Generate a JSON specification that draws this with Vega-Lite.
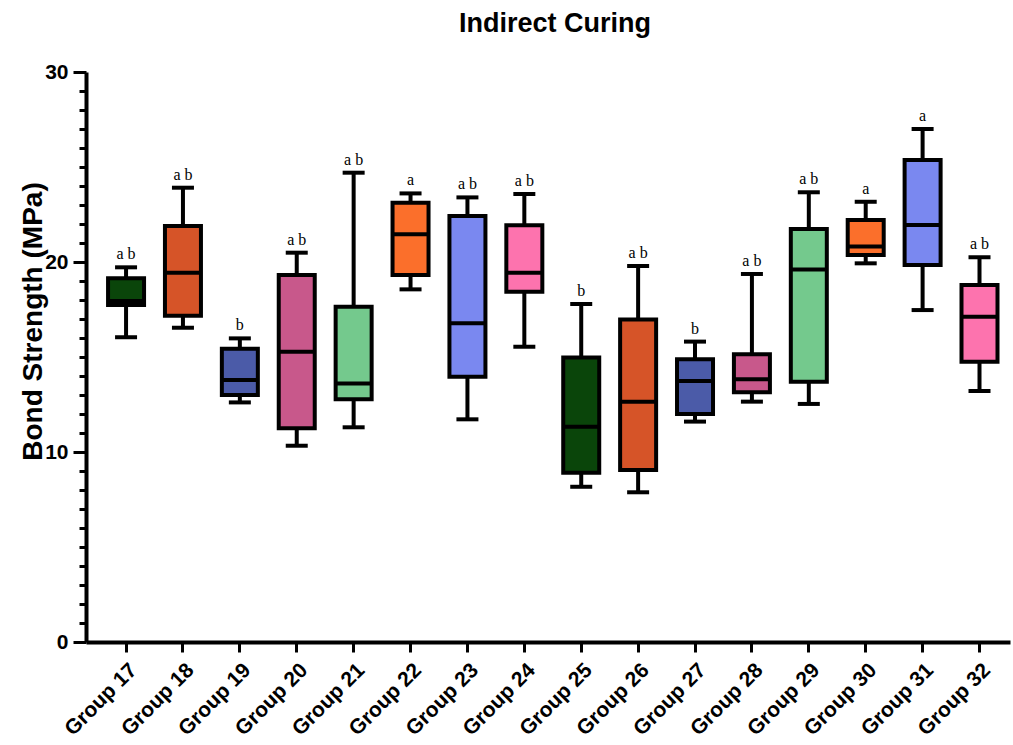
{
  "$schema": "https://vega.github.io/schema/vega-lite/v6.json",
  "width": 924,
  "height": 570,
  "autosize": {"type": "none"},
  "padding": {"left": 86, "top": 72, "right": 3, "bottom": 103},
  "background": "white",
  "config": {"view": {"stroke": null}, "font": "Liberation Sans"},
  "title": {"text": "Indirect Curing", "fontSize": 27, "font": "Liberation Sans", "fontWeight": "bold", "anchor": "middle", "offset": 23, "dx": 7, "color": "black"},
  "data": {"values": [
    {"group": "Group 17", "min": 16.04, "q1": 17.74, "median": 17.95, "q3": 19.14, "max": 19.72, "sig": "a b"},
    {"group": "Group 18", "min": 16.54, "q1": 17.17, "median": 19.44, "q3": 21.9, "max": 23.91, "sig": "a b"},
    {"group": "Group 19", "min": 12.61, "q1": 13.0, "median": 13.79, "q3": 15.44, "max": 15.98, "sig": "b"},
    {"group": "Group 20", "min": 10.33, "q1": 11.25, "median": 15.28, "q3": 19.32, "max": 20.49, "sig": "a b"},
    {"group": "Group 21", "min": 11.3, "q1": 12.77, "median": 13.61, "q3": 17.65, "max": 24.7, "sig": "a b"},
    {"group": "Group 22", "min": 18.56, "q1": 19.32, "median": 21.46, "q3": 23.12, "max": 23.61, "sig": "a"},
    {"group": "Group 23", "min": 11.72, "q1": 13.96, "median": 16.77, "q3": 22.42, "max": 23.4, "sig": "a b"},
    {"group": "Group 24", "min": 15.54, "q1": 18.44, "median": 19.44, "q3": 21.93, "max": 23.58, "sig": "a b"},
    {"group": "Group 25", "min": 8.17, "q1": 8.91, "median": 11.33, "q3": 14.98, "max": 17.79, "sig": "b"},
    {"group": "Group 26", "min": 7.88, "q1": 9.05, "median": 12.65, "q3": 16.98, "max": 19.79, "sig": "a b"},
    {"group": "Group 27", "min": 11.6, "q1": 12.0, "median": 13.74, "q3": 14.88, "max": 15.81, "sig": "b"},
    {"group": "Group 28", "min": 12.65, "q1": 13.14, "median": 13.83, "q3": 15.14, "max": 19.37, "sig": "a b"},
    {"group": "Group 29", "min": 12.53, "q1": 13.7, "median": 19.61, "q3": 21.74, "max": 23.67, "sig": "a b"},
    {"group": "Group 30", "min": 19.93, "q1": 20.37, "median": 20.81, "q3": 22.21, "max": 23.17, "sig": "a"},
    {"group": "Group 31", "min": 17.47, "q1": 19.84, "median": 21.95, "q3": 25.37, "max": 27.0, "sig": "a"},
    {"group": "Group 32", "min": 13.21, "q1": 14.75, "median": 17.12, "q3": 18.79, "max": 20.25, "sig": "a b"}
  ]},
  "encoding": {
    "x": {
      "field": "group", "type": "nominal", "sort": null,
      "scale": {"paddingInner": 0, "paddingOuter": 0.12, "align": 0.85},
      "axis": {
        "title": null, "labelAngle": -45, "labelFontSize": 21, "labelFontWeight": "bold", "labelColor": "black",
        "labelPadding": 7, "tickSize": 10, "tickWidth": 3, "tickColor": "black",
        "domainWidth": 4, "domainColor": "black", "grid": false, "labelFont": "Liberation Sans"
      }
    }
  },
  "layer": [
    {
      "mark": {"type": "rule", "color": "black", "strokeWidth": 4},
      "encoding": {
        "y": {
          "field": "min", "type": "quantitative",
          "scale": {"domain": [0, 30], "nice": false, "zero": true},
          "axis": {
            "title": "Bond Strength (MPa)", "titleFontSize": 28, "titleFontWeight": "bold", "titleColor": "black", "titlePadding": -3,
            "titleFont": "Liberation Sans", "titleY": 249,
            "values": [0,1,2,3,4,5,6,7,8,9,10,11,12,13,14,15,16,17,18,19,20,21,22,23,24,25,26,27,28,29,30],
            "tickCount": 100,
            "format": "d",
            "labelExpr": "datum.value % 10 === 0 ? datum.label : ''",
            "labelOverlap": false,
            "labelFontSize": 21, "labelFontWeight": "bold", "labelColor": "black", "labelPadding": 5, "labelFont": "Liberation Sans",
            "tickSize": {"condition": {"test": "datum.value % 10 === 0", "value": 13}, "value": 7},
            "tickWidth": 3, "tickColor": "black", "domainWidth": 4, "domainColor": "black", "grid": false
          }
        },
        "y2": {"field": "max"}
      }
    },
    {
      "mark": {"type": "bar", "size": 36, "stroke": "black", "strokeWidth": 4},
      "encoding": {
        "y": {"field": "q1", "type": "quantitative"},
        "y2": {"field": "q3"},
        "color": {
          "field": "group", "type": "nominal", "legend": null,
          "scale": {
            "domain": ["Group 17","Group 18","Group 19","Group 20","Group 21","Group 22","Group 23","Group 24","Group 25","Group 26","Group 27","Group 28","Group 29","Group 30","Group 31","Group 32"],
            "range": ["#0a450a","#d65428","#4b5ba8","#c8588b","#74c98d","#fb6f2b","#7a88f0","#fd73ae","#0a450a","#d65428","#4b5ba8","#c8588b","#74c98d","#fb6f2b","#7a88f0","#fd73ae"]
          }
        }
      }
    },
    {
      "mark": {"type": "tick", "size": 36, "thickness": 4, "color": "black", "opacity": 1},
      "encoding": {"y": {"field": "median", "type": "quantitative"}}
    },
    {
      "mark": {"type": "tick", "size": 22, "thickness": 4, "color": "black", "opacity": 1},
      "encoding": {"y": {"field": "min", "type": "quantitative"}}
    },
    {
      "mark": {"type": "tick", "size": 22, "thickness": 4, "color": "black", "opacity": 1},
      "encoding": {"y": {"field": "max", "type": "quantitative"}}
    },
    {
      "mark": {"type": "text", "font": "Liberation Serif", "fontSize": 16, "baseline": "alphabetic", "dy": -8, "color": "black"},
      "encoding": {
        "y": {"field": "max", "type": "quantitative"},
        "text": {"field": "sig"}
      }
    }
  ]
}
